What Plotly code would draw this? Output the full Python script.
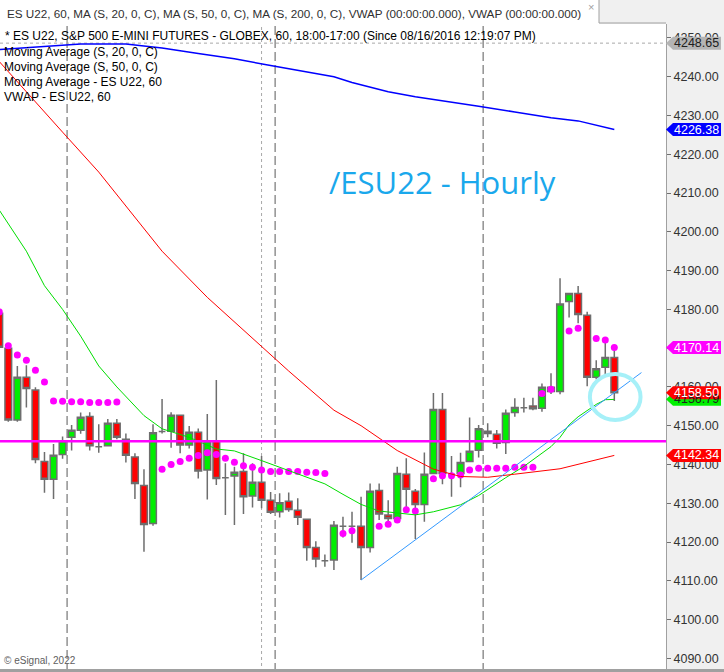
import plotly.graph_objects as go

# hourly bars, index 0..68 (left to right)
bar_open = [4179.0, 4170.0, 4151.5, 4162.5, 4159.2, 4140.8, 4136.2, 4142.6, 4147.0, 4148.8,
            4152.4, 4144.6, 4144.8, 4150.6, 4146.5, 4141.9, 4134.6, 4124.8, 4148.5, 4148.6,
            4152.7, 4145.0, 4148.3, 4138.6, 4146.0, 4136.6, 4137.0, 4138.2, 4131.9, 4135.4,
            4130.8, 4127.8, 4130.5, 4128.2, 4125.9, 4118.6, 4115.2, 4115.4, 4124.1, 4124.1,
            4124.1, 4118.6, 4133.3, 4127.0, 4126.1, 4137.5, 4133.1, 4129.7, 4137.7, 4154.2,
            4137.5, 4137.7, 4140.8, 4143.7, 4148.6, 4147.8, 4145.7, 4153.4, 4154.6, 4155.1,
            4154.5, 4159.9, 4158.8, 4182.0, 4184.1, 4178.5, 4162.5, 4165.1, 4167.6]
bar_high = [4180.5, 4170.3, 4165.4, 4165.6, 4159.9, 4143.2, 4145.3, 4147.2, 4150.2, 4153.4,
            4153.5, 4150.4, 4151.7, 4151.7, 4148.0, 4142.9, 4138.8, 4150.4, 4156.9, 4153.5,
            4152.7, 4149.9, 4149.3, 4153.0, 4161.8, 4140.3, 4139.4, 4142.9, 4140.3, 4142.2,
            4132.9, 4132.6, 4132.8, 4131.3, 4125.9, 4120.2, 4116.8, 4125.4, 4126.5, 4127.8,
            4131.7, 4135.1, 4135.1, 4130.8, 4139.4, 4141.6, 4133.7, 4143.1, 4158.4, 4158.4,
            4142.2, 4143.0, 4152.1, 4150.2, 4150.6, 4148.9, 4154.2, 4157.1, 4157.2, 4157.2,
            4160.9, 4163.5, 4188.0, 4184.3, 4186.0, 4179.4, 4166.9, 4172.1, 4170.8]
bar_low = [4170.0, 4151.0, 4151.0, 4154.7, 4140.3, 4132.7, 4131.1, 4141.5, 4143.6, 4147.9,
           4143.6, 4143.0, 4144.8, 4146.5, 4140.5, 4131.1, 4117.5, 4124.2, 4148.0, 4144.3,
           4142.9, 4144.1, 4136.4, 4131.0, 4134.7, 4127.0, 4124.4, 4127.2, 4128.9, 4128.7,
           4127.2, 4126.3, 4127.8, 4124.4, 4115.2, 4113.5, 4113.6, 4112.8, 4121.2, 4119.8,
           4110.2, 4117.3, 4125.7, 4124.8, 4126.0, 4127.8, 4120.8, 4125.2, 4137.5, 4134.9,
           4131.7, 4134.1, 4140.6, 4141.8, 4147.0, 4144.1, 4142.7, 4152.3, 4153.4, 4154.0,
           4153.6, 4158.2, 4158.1, 4177.9, 4176.4, 4160.2, 4162.0, 4163.1, 4156.4]
bar_close = [4170.2, 4151.5, 4162.5, 4159.6, 4141.3, 4136.2, 4142.4, 4146.1, 4148.8, 4152.2,
             4144.8, 4144.6, 4150.6, 4147.0, 4142.4, 4135.1, 4124.5, 4148.2, 4148.5, 4152.7,
             4145.0, 4148.3, 4138.3, 4146.1, 4136.4, 4136.6, 4138.0, 4131.7, 4135.4, 4130.8,
             4127.7, 4130.1, 4128.4, 4126.4, 4118.6, 4115.6, 4115.2, 4124.3, 4124.1, 4124.1,
             4118.6, 4133.1, 4127.2, 4126.1, 4137.7, 4133.6, 4129.7, 4137.5, 4154.2, 4137.7,
             4137.5, 4140.5, 4143.4, 4149.2, 4148.0, 4145.5, 4153.2, 4154.7, 4154.6, 4154.4,
             4159.9, 4158.8, 4181.4, 4184.1, 4178.7, 4162.5, 4164.7, 4167.6, 4158.5]
bar_idx = list(range(len(bar_close)))

ma20_idx = [0, 3, 5, 7, 9, 11, 13, 16, 18, 21, 24, 26, 29, 31, 34, 36, 38, 40, 42, 46, 48,
            51, 53, 55, 56, 58, 59, 61, 62, 63, 64, 66, 67, 68]
ma20_val = [4205.6, 4195.0, 4186.1, 4180.0, 4173.1, 4165.4, 4160.0, 4152.6, 4149.2, 4147.0,
            4144.0, 4143.5, 4141.0, 4139.3, 4136.8, 4135.0, 4132.3, 4129.7, 4128.0, 4127.0,
            4127.8, 4129.6, 4132.0, 4135.1, 4136.6, 4139.5, 4141.2, 4144.6, 4147.0, 4150.2,
            4152.3, 4155.5, 4156.7, 4156.79]

ma50_idx = [0, 4, 7, 11, 15, 18, 23, 27, 32, 37, 40, 44, 48, 51, 54, 57, 62, 68]
ma50_val = [4243.9, 4233.4, 4225.7, 4215.4, 4203.8, 4195.0, 4183.1, 4174.6, 4164.1, 4154.0,
            4150.0, 4143.6, 4138.8, 4136.9, 4136.7, 4137.5, 4138.9, 4142.34]

ma200_idx = [0, 4, 9, 14, 18, 22, 26, 30, 37, 39, 43, 46, 50, 53, 57, 61, 64, 68]
ma200_val = [4247.0, 4247.7, 4248.4, 4248.4, 4247.4, 4246.0, 4244.6, 4242.9, 4240.0, 4238.5,
             4236.1, 4234.8, 4233.5, 4232.4, 4230.9, 4229.4, 4228.6, 4226.38]

vwap_idx = [0, 1, 2, 3, 4, 5,
            6, 7, 8, 9, 10, 11, 12, 13,
            18, 19, 20, 21, 22, 23, 24, 25, 26, 27, 28, 29, 30, 31, 32, 33, 34, 35, 36,
            38, 39, 42, 43, 44, 45, 46, 48, 49, 50, 51, 52, 53, 54, 55, 56, 57, 58, 59,
            60, 61, 63, 64, 66, 67, 68]
vwap_val = [4179.3, 4170.6, 4168.2, 4166.9, 4164.3, 4161.3,
            4156.4, 4156.3, 4156.2, 4156.2, 4156.0, 4156.0, 4156.0, 4156.1,
            4138.8, 4140.0, 4140.8, 4141.6, 4142.3, 4143.0, 4142.6, 4141.6, 4140.6, 4139.7,
            4139.3, 4138.6, 4138.2, 4138.2, 4138.2, 4138.2, 4138.0, 4137.9, 4137.7,
            4122.2, 4122.9, 4124.1, 4124.6, 4125.7, 4128.3, 4128.0, 4136.3, 4137.1, 4137.1,
            4137.3, 4138.6, 4139.0, 4139.0, 4139.0, 4139.0, 4139.3, 4139.3, 4139.3,
            4158.3, 4159.4, 4174.4, 4175.1, 4172.5, 4172.1, 4170.14]

trend_idx = [40, 71]
trend_val = [4110.2, 4163.7]

hline_level = 4146.0
high_level = 4248.65
session_breaks = [7.5, 30.5, 53.5]
cursor_idx = 29

y_ticks = list(range(4090, 4251, 10))
y_tick_text = [f"{v:.2f}" for v in y_ticks]

badges = [  # (value, fill, text colour)
    (4248.65, "#B4B4B4", "#202020"),
    (4226.38, "#0000FF", "#FFFFFF"),
    (4170.14, "#FF00FF", "#FFFFFF"),
    (4156.79, "#00F000", "#202020"),
    (4158.50, "#FF0000", "#FFFFFF"),
    (4142.34, "#FF0000", "#FFFFFF"),
]

W, H = 724, 672
TOP, RIGHT = 24, 58
PW, PH = W - RIGHT, H - TOP
px_per_pt = 3.878
y_top = 4150 + (425.7 - TOP) / px_per_pt
y_bot = 4150 - (H - 425.7) / px_per_pt
x_left = (0 - 8.3) / 9.045 + 1
x_right = x_left + PW / 9.045


def px(x):
    return x / PW


def py(y):
    return (H - y) / PH


FONT = "Liberation Sans, Arial, sans-serif"

fig = go.Figure()

fig.add_trace(go.Scatter(x=vwap_idx, y=vwap_val, mode="markers",
                         marker=dict(color="#FF00FF", size=7), hoverinfo="skip"))

fig.add_trace(go.Candlestick(
    x=bar_idx, open=bar_open, high=bar_high, low=bar_low, close=bar_close,
    increasing=dict(fillcolor="#00EE00", line=dict(color="#6E6E6E", width=1.5)),
    decreasing=dict(fillcolor="#FF0000", line=dict(color="#6E6E6E", width=1.5)),
    whiskerwidth=0, hoverinfo="skip",
))

fig.add_trace(go.Scatter(x=ma20_idx, y=ma20_val, mode="lines",
                         line=dict(color="#00DD00", width=1), hoverinfo="skip"))
fig.add_trace(go.Scatter(x=ma50_idx, y=ma50_val, mode="lines",
                         line=dict(color="#FF0000", width=1), hoverinfo="skip"))
fig.add_trace(go.Scatter(x=ma200_idx, y=ma200_val, mode="lines",
                         line=dict(color="#0000FF", width=1.5), hoverinfo="skip"))
fig.add_trace(go.Scatter(x=trend_idx, y=trend_val, mode="lines",
                         line=dict(color="#3399FF", width=1), hoverinfo="skip"))

shapes = []
# tab strip
shapes.append(dict(type="rect", xref="paper", yref="paper", x0=0, x1=px(599), y0=1, y1=py(0),
                   fillcolor="white", line_width=0, layer="below"))
shapes.append(dict(type="path", xref="paper", yref="paper",
                   path=f"M {px(599)},{py(0)} L {px(599)},{py(23)} L {px(666)},{py(23)}",
                   line=dict(color="#A0A0A0", width=1)))
# bottom frame
shapes.append(dict(type="rect", xref="paper", yref="paper", x0=0, x1=W / PW, y0=0, y1=py(669),
                   fillcolor="#A0A0A0", line_width=0))

for b in session_breaks:
    shapes.append(dict(type="line", xref="x", yref="paper", x0=b, x1=b, y0=0, y1=1,
                       line=dict(color="#808080", width=1.3, dash="9px,4px"), layer="below"))
shapes.append(dict(type="line", xref="x", yref="paper", x0=cursor_idx, x1=cursor_idx, y0=0, y1=1,
                   line=dict(color="#A8A8A8", width=1, dash="dot"), layer="below"))
shapes.append(dict(type="line", xref="paper", yref="y", x0=0, x1=1, y0=high_level, y1=high_level,
                   line=dict(color="#A8A8A8", width=1, dash="dot"), layer="below"))
shapes.append(dict(type="line", xref="paper", yref="y", x0=0, x1=1, y0=hline_level, y1=hline_level,
                   line=dict(color="#FF00FF", width=2.5)))
shapes.append(dict(type="circle", xref="x", yref="y", x0=65.3, x1=70.9, y0=4151.5, y1=4163.3,
                   line=dict(color="#A6F0F8", width=4)))

annotations = []
hh = 6.5 / px_per_pt
for val, fill, tcol in badges:
    shapes.append(dict(type="path", xref="paper", yref="y",
                       path=(f"M {px(666)},{val} L {px(673)},{val + hh} L {px(721)},{val + hh} "
                             f"L {px(721)},{val - hh} L {px(673)},{val - hh} Z"),
                       fillcolor=fill, line_width=0, layer="above"))
    annotations.append(dict(xref="paper", yref="y", x=px(696), y=val, text=f"{val:.2f}",
                            showarrow=False, xanchor="center", yanchor="middle",
                            font=dict(family=FONT, size=12.5, color=tcol)))

annotations.append(dict(xref="paper", yref="paper", x=px(5), y=py(13),
                        text="ES U22, 60, MA (S, 20, 0, C), MA (S, 50, 0, C), MA (S, 200, 0, C), "
                             "VWAP (00:00:00.000), VWAP (00:00:00.000)",
                        showarrow=False, xanchor="left", yanchor="middle",
                        font=dict(family=FONT, size=11.7, color="#303030")))
annotations.append(dict(xref="paper", yref="paper", x=px(591), y=py(7), text="×",
                        showarrow=False, xanchor="center", yanchor="middle",
                        font=dict(family=FONT, size=11, color="#A0A0A0")))
annotations.append(dict(xref="paper", yref="paper", x=px(3), y=py(36),
                        text="* ES U22, S&P 500 E-MINI FUTURES - GLOBEX, 60, 18:00-17:00 "
                             "(Since 08/16/2016 12:19:07 PM)",
                        showarrow=False, xanchor="left", yanchor="middle",
                        font=dict(family=FONT, size=12, color="#000000")))
legend_lines = ["Moving Average (S, 20, 0, C)", "Moving Average (S, 50, 0, C)",
                "Moving Average - ES U22, 60", "VWAP - ES U22, 60"]
for i, t in enumerate(legend_lines):
    annotations.append(dict(xref="paper", yref="paper", x=px(2), y=py(52 + 15 * i), text=t,
                            showarrow=False, xanchor="left", yanchor="middle",
                            font=dict(family=FONT, size=12, color="#000000")))
annotations.append(dict(xref="paper", yref="paper", x=px(442), y=py(182), text="/ESU22 - Hourly",
                        showarrow=False, xanchor="center", yanchor="middle",
                        font=dict(family="Open Sans, sans-serif", size=31, color="#1AA8EC")))
annotations.append(dict(xref="paper", yref="paper", x=px(2), y=py(660), text="© eSignal, 2022",
                        showarrow=False, xanchor="left", yanchor="middle",
                        font=dict(family=FONT, size=10, color="#606060")))

fig.update_layout(
    width=W, height=H,
    margin=dict(l=0, r=RIGHT, t=TOP, b=0),
    paper_bgcolor="#F0F0F0", plot_bgcolor="white",
    showlegend=False,
    boxgap=0.26, boxgroupgap=0,
    shapes=shapes, annotations=annotations,
    xaxis=dict(range=[x_left, x_right], visible=False, rangeslider=dict(visible=False),
               fixedrange=True),
    yaxis=dict(range=[y_bot, y_top], side="right", tickvals=y_ticks, ticktext=y_tick_text,
               ticks="outside", ticklen=4, tickcolor="#707070", showline=True,
               linecolor="#A0A0A0", linewidth=1, showgrid=False, zeroline=False,
               tickfont=dict(family=FONT, size=12.5, color="#333333"), fixedrange=True),
)

# the page's default body margin would shift the chart by 8px
fig.write_html("out.html", config={"displayModeBar": False},
               post_script="document.body.style.margin='0px';")
